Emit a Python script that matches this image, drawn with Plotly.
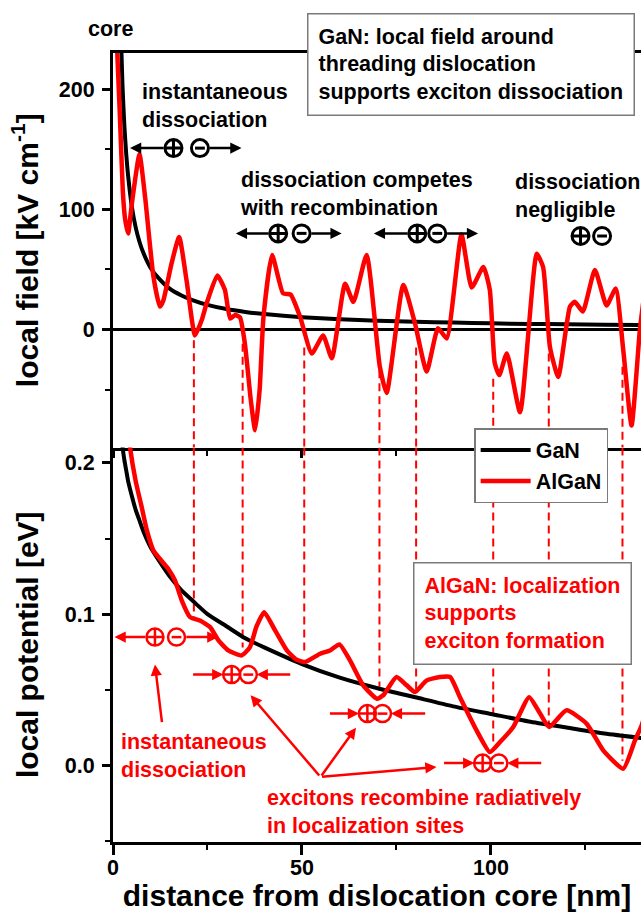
import plotly.graph_objects as go
from plotly.subplots import make_subplots

FONT = "Liberation Sans, Arial, sans-serif"
RED = "#ff0000"

# ---------------- data ----------------
gan_x = [2, 2.5, 3, 3.5, 4, 5, 6, 7, 8, 10, 12, 15, 18, 21, 25, 30, 35, 40,
         50, 60, 70, 80, 90, 100, 110, 120, 130, 140]
gan_field = [255, 204, 170, 146, 128, 102, 85, 73, 64, 51, 43, 34, 28.5, 24.5,
             20.5, 17, 14.6, 12.8, 10.2, 8.5, 7.3, 6.4, 5.7, 5.1, 4.6, 4.3, 3.9, 3.6]
gan_potential = [0.222, 0.211, 0.202, 0.195, 0.188, 0.178, 0.169, 0.162, 0.155,
                 0.144, 0.136, 0.125, 0.116, 0.109, 0.100, 0.092, 0.084, 0.078,
                 0.067, 0.058, 0.051, 0.045, 0.039, 0.034, 0.029, 0.025, 0.021, 0.018]

algan_field_x = [1.0, 1.8, 2.6, 3.2, 4.0, 5.0, 7.0, 8.5, 10.7, 12.4, 13.3, 15.5,
                 17.5, 19.5, 21.7, 23.5, 24.8, 27.6, 29.6, 31.0, 32.3, 33.6, 34.9,
                 36.5, 37.6, 38.8, 39.8, 42.1, 45.0, 47.0, 49.5, 52.6, 55.6, 57.9,
                 61.4, 63.6, 67.1, 70.6, 72.4, 76.8, 79.9, 83.0, 86.0, 88.3, 92.2,
                 94.9, 98.0, 99.7, 101.0, 102.2, 104.2, 107.7, 112.1, 113.8, 115.6,
                 117.8, 120.9, 122.2, 124.3, 127.5, 130.6, 133.0, 135.0, 137.2,
                 139.4, 141.0]
algan_field = [240, 180, 115, 92, 80, 105, 146, 110, 44, 19, 24, 55,
               77, 40, -5, 8, 22, 45, 33, 9, 12, 10, -12,
               -60, -84, -50, 10, 62, 30, 29, 10.5, -20, -5, -24,
               38, 23, 62, -31, -53, 37, 5, -35, 1, -7.5, 79,
               35, 52, 33, -28, -38, -20, -69, 63, 52, -14.5,
               -39.5, 19, 23, 15, 49.5, 20, 34, -17, -80,
               -0.5, 40]

algan_pot_x = [3.5, 4.5, 6.0, 7.6, 9.0, 10.7, 12.4, 14.6, 16.4, 18.2, 20.4, 23.0,
               25.7, 27.9, 30.5, 34.0, 36.2, 38.0, 40.0, 42.9, 46.0, 48.5, 50.8,
               54.8, 57.4, 59.9, 62.7, 66.2, 69.8, 71.5, 75.0, 77.7, 79.9, 83.0,
               86.5, 89.2, 91.8, 96.2, 99.7, 102.4, 105.9, 110.1, 113.0, 115.4,
               120.0, 125.3, 129.7, 135.0, 138.1, 139.7, 141.0]
algan_pot = [0.235, 0.2104, 0.188, 0.1707, 0.155, 0.142, 0.1366, 0.130, 0.1223,
             0.109, 0.098, 0.0958, 0.0914, 0.0826, 0.076, 0.0727, 0.078, 0.092,
             0.1013, 0.0892, 0.076, 0.070, 0.0683, 0.0738, 0.076, 0.080, 0.0694,
             0.0529, 0.0441, 0.0463, 0.0584, 0.0529, 0.0485, 0.0562, 0.0584,
             0.0584, 0.0451, 0.0231, 0.0088, 0.0154, 0.0253, 0.0451, 0.0342,
             0.0253, 0.0364, 0.0276, 0.0099, -0.0022, 0.0165, 0.0253, 0.035]

# localization sites (dashed guides): x position, start in field panel, end in potential panel
site_x = [21.4, 34.3, 50.6, 70.5, 80.2, 100.6, 115.3, 134.8]
site_field_start = [-9, -12, -15, -34, -15, -41, -20, -31]
site_pot_end = [0.098, 0.078, 0.0727, 0.052, 0.0496, 0.0145, 0.0277, 0.003]

x_ticks = [0, 50, 100]
field_ticks = [0, 100, 200]
pot_ticks = [0.0, 0.1, 0.2]

X_RANGE = [0, 139.7]
FIELD_RANGE = [-98.3, 230.2]
POT_RANGE = [-0.0507, 0.2102]

# ---------------- figure ----------------
fig = make_subplots(rows=2, cols=1, shared_xaxes=True, vertical_spacing=0)

fig.add_trace(go.Scatter(x=gan_x, y=gan_field, mode="lines", name="GaN",
                         legendgroup="GaN",
                         line=dict(color="black", width=4, shape="spline", smoothing=0.6)),
              row=1, col=1)
fig.add_trace(go.Scatter(x=algan_field_x, y=algan_field, mode="lines", name="AlGaN",
                         legendgroup="AlGaN",
                         line=dict(color=RED, width=4.5, shape="spline", smoothing=0.5)),
              row=1, col=1)
fig.add_trace(go.Scatter(x=gan_x, y=gan_potential, mode="lines", name="GaN",
                         legendgroup="GaN", showlegend=False,
                         line=dict(color="black", width=4, shape="spline", smoothing=0.6)),
              row=2, col=1)
fig.add_trace(go.Scatter(x=algan_pot_x, y=algan_pot, mode="lines", name="AlGaN",
                         legendgroup="AlGaN", showlegend=False,
                         line=dict(color=RED, width=4.5, shape="spline", smoothing=0.5)),
              row=2, col=1)

# dashed guides
for xs, ys, ye in zip(site_x, site_field_start, site_pot_end):
    fig.add_shape(type="line", xref="x", yref="y", x0=xs, x1=xs, y0=ys, y1=FIELD_RANGE[0],
                  line=dict(color=RED, width=2, dash="8px,5px"), layer="below")
    fig.add_shape(type="line", xref="x2", yref="y2", x0=xs, x1=xs, y0=POT_RANGE[1], y1=ye,
                  line=dict(color=RED, width=2, dash="8px,5px"), layer="below")


def marker_trace(row, x, y, symbol, size, color, lw):
    fig.add_trace(go.Scatter(x=[x], y=[y], mode="markers", showlegend=False, hoverinfo="skip",
                             cliponaxis=False,
                             marker=dict(symbol=symbol, size=size, color=color, opacity=1,
                                         line=dict(width=lw, color=color))), row=row, col=1)


def pair(row, xp, xm, y, color, lw):
    marker_trace(row, xp, y, "circle-cross-open", 17, color, lw)
    marker_trace(row, xm, y, "circle-open", 17, color, lw)
    marker_trace(row, xm, y, "line-ew-open", 7, color, lw)


def arrow(row, tail, tip, color):
    xr = "x" if row == 1 else "x2"
    yr = "y" if row == 1 else "y2"
    fig.add_annotation(x=tip[0], y=tip[1], ax=tail[0], ay=tail[1], xref=xr, yref=yr,
                       axref=xr, ayref=yr, text="", showarrow=True, arrowhead=2,
                       arrowsize=0.9, arrowwidth=2.5, arrowcolor=color,
                       standoff=0, startstandoff=0)


# top panel exciton symbols
pair(1, 16.0, 23.0, 151, "black", 3)
arrow(1, (13.8, 151), (4.5, 151), "black")
arrow(1, (25.2, 151), (34.0, 151), "black")
pair(1, 43.7, 49.9, 80, "black", 3)
arrow(1, (41.5, 80), (32.5, 80), "black")
arrow(1, (52.1, 80), (60.5, 80), "black")
pair(1, 80.5, 85.8, 80, "black", 3)
arrow(1, (78.3, 80), (69.0, 80), "black")
arrow(1, (88.0, 80), (96.6, 80), "black")
pair(1, 123.7, 129.4, 77.8, "black", 3)

# bottom panel exciton symbols
pair(2, 11.1, 16.8, 0.0848, RED, 2.5)
arrow(2, (8.9, 0.0848), (0.4, 0.0848), RED)
arrow(2, (19.0, 0.0848), (27.9, 0.0848), RED)
pair(2, 31.4, 35.8, 0.060, RED, 2.5)
arrow(2, (20.8, 0.060), (29.2, 0.060), RED)
arrow(2, (47.3, 0.060), (38.0, 0.060), RED)
pair(2, 67.3, 71.3, 0.0342, RED, 2.5)
arrow(2, (57.0, 0.0342), (65.1, 0.0342), RED)
arrow(2, (83.0, 0.0342), (73.5, 0.0342), RED)
pair(2, 97.8, 102.1, 0.0015, RED, 2.5)
arrow(2, (87.2, 0.0015), (95.6, 0.0015), RED)
arrow(2, (113.7, 0.0015), (104.3, 0.0015), RED)

# pointer arrows from labels
arrow(2, (13.0, 0.0276), (11.1, 0.0667), RED)
arrow(2, (54.9, -0.0077), (36.4, 0.0463), RED)
arrow(2, (54.9, -0.0077), (64.3, 0.0249), RED)
arrow(2, (54.9, -0.0077), (85.6, -0.0011), RED)

TXT = 21.5


def label(text, x, y, xref, yref, color="black", **kw):
    fig.add_annotation(text=text, x=x, y=y, xref=xref, yref=yref, showarrow=False,
                       xanchor=kw.pop("xanchor", "left"), yanchor=kw.pop("yanchor", "middle"),
                       align="left", font=dict(family=FONT, size=TXT, color=color, weight="bold"),
                       **kw)


label("core", -0.004, 1.0304, "paper", "paper", xanchor="center")
label("GaN: local field around<br>threading dislocation<br>supports exciton dissociation",
      0.3674, 1.0507, "paper", "paper", yanchor="top", bgcolor="white",
      bordercolor="#7a7a7a", borderwidth=1.5, borderpad=10)
label("instantaneous<br>dissociation", 7.1, 185.7, "x", "y")
label("dissociation competes<br>with recombination", 33.1, 112.8, "x", "y")
label("dissociation<br>negligible", 105.9, 111.2, "x", "y")
label("AlGaN: localization<br>supports<br>exciton formation", 0.5688, 0.3545, "paper", "paper",
      color=RED, yanchor="top", bgcolor="white", bordercolor="#7a7a7a", borderwidth=1.5,
      borderpad=10)
label("instantaneous<br>dissociation", 1.6, 0.0063, "x2", "y2", color=RED)
label("excitons recombine radiatively<br>in localization sites", 40.2, -0.0309, "x2", "y2",
      color=RED)

tickfont = dict(family=FONT, size=TXT, color="black", weight="bold")
titlefont = dict(family=FONT, size=30, color="black", weight="bold")

fig.update_xaxes(range=X_RANGE, showgrid=False, zeroline=False, showline=True,
                 linecolor="black", linewidth=3, ticks="outside", tickcolor="black",
                 tickwidth=2.5, tickvals=x_ticks,
                 minor=dict(dtick=25, tick0=0, ticks="outside", ticklen=5, tickwidth=2,
                            tickcolor="black", showgrid=False))
fig.update_xaxes(row=1, col=1, mirror=True, ticklen=7, showticklabels=False)
fig.update_xaxes(row=2, col=1, ticklen=10, tickfont=tickfont, ticklabelstandoff=-6,
                 title=dict(text="distance from dislocation core [nm]", font=titlefont,
                            standoff=12))

fig.update_yaxes(row=1, col=1, range=FIELD_RANGE, tickvals=field_ticks,
                 minor=dict(tickvals=[-50, 50, 150], ticks="outside", ticklen=5, tickwidth=2,
                            tickcolor="black", showgrid=False),
                 zeroline=True, zerolinecolor="black", zerolinewidth=2.5,
                 title=dict(text="local field [kV cm<sup>-1</sup>]", font=titlefont, standoff=12))
fig.update_yaxes(row=2, col=1, range=POT_RANGE, tickvals=pot_ticks, tickformat=".1f",
                 minor=dict(tickvals=[-0.05, 0.05, 0.15], ticks="outside", ticklen=5,
                            tickwidth=2, tickcolor="black", showgrid=False),
                 zeroline=False,
                 title=dict(text="local potential [eV]", font=titlefont, standoff=18))
fig.update_yaxes(showgrid=False, showline=True, linecolor="black", linewidth=3,
                 ticks="outside", ticklen=8, tickwidth=2.5, tickcolor="black",
                 tickfont=tickfont, ticklabelstandoff=3)

fig.update_layout(
    width=641, height=912,
    margin=dict(l=113, r=0, t=53, b=70),
    paper_bgcolor="white", plot_bgcolor="white",
    font=dict(family=FONT, color="black"),
    showlegend=True,
    legend=dict(x=0.684, y=0.5247, xanchor="left", yanchor="top", bgcolor="white",
                bordercolor="#7a7a7a", borderwidth=1.5, tracegroupgap=0,
                font=dict(family=FONT, size=TXT, color="black", weight="bold"),
                itemwidth=50),
)

fig.write_html("out.html")
